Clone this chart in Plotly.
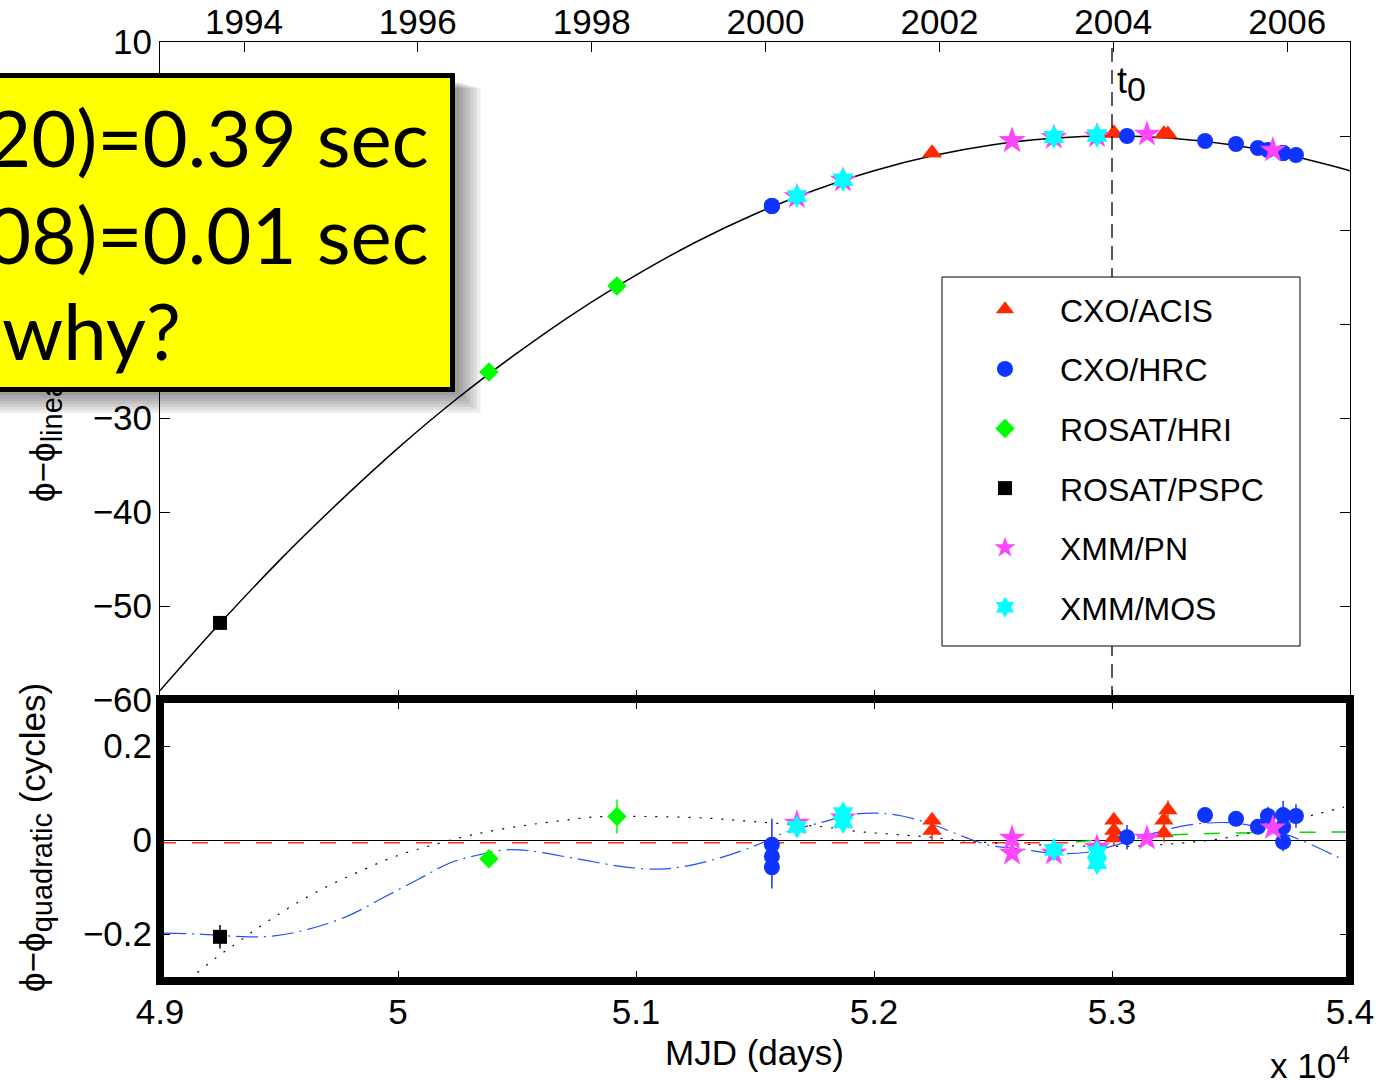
import plotly.graph_objects as go

# ---------------- data ----------------
# Top panel: phi - phi_linear (cycles) ; bottom: residuals phi - phi_quadratic
acis_mjd = [52244, 52244, 53008, 53008, 53008, 53218, 53218, 53235]
acis_top = [-1.8, -1.8, 0.3, 0.3, 0.3, 0.2, 0.2, 0.2]
acis_res = [0.042, 0.020, 0.042, 0.020, 0.004, 0.042, 0.015, 0.064]
acis_err = [0.015, 0.020, 0.015, 0.015, 0.015, 0.015, 0.020, 0.020]

hrc_mjd = [51571, 51571, 51571, 53063, 53391, 53521, 53613, 53655, 53719, 53719, 53719, 53773]
hrc_top = [-7.45, -7.45, -7.45, 0.0, -0.53, -0.85, -1.28, -1.49, -1.81, -1.81, -1.81, -2.02]
hrc_res = [-0.010, -0.035, -0.058, 0.006, 0.053, 0.045, 0.028, 0.051, 0.053, 0.028, -0.004, 0.051]
hrc_err = [0.055, 0.020, 0.045, 0.026, 0.012, 0.012, 0.012, 0.020, 0.030, 0.020, 0.020, 0.025]

hri_mjd = [50382, 50920]
hri_top = [-25.1, -15.95]
hri_res = [-0.040, 0.050]
hri_err = [0.010, 0.036]

pspc_mjd = [49252]
pspc_top = [-51.8]
pspc_res = [-0.206]
pspc_err = [0.025]

pn_mjd = [51676, 51870, 52580, 52580, 52756, 52937, 53147, 53676]
pn_top = [-6.45, -4.7, -0.5, -0.5, -0.15, 0.0, 0.2, -1.5]
pn_res = [0.036, 0.047, 0.004, -0.028, -0.028, -0.015, 0.004, 0.026]
pn_err = [0.010, 0.010, 0.012, 0.012, 0.010, 0.010, 0.010, 0.012]

mos_mjd = [51676, 51870, 51870, 52756, 52937, 52937]
mos_top = [-6.4, -4.65, -4.65, -0.1, 0.05, 0.05]
mos_res = [0.028, 0.057, 0.038, -0.021, -0.026, -0.049]
mos_err = [0.010, 0.010, 0.010, 0.010, 0.010, 0.010]

# quadratic model curve (top panel)
fit_mjd = [49000, 49250, 49500, 49750, 50000, 50250, 50500, 50750, 51000, 51250, 51500,
           51750, 52000, 52250, 52500, 52750, 53000, 53250, 53500, 53750, 54000]
fit_val = [-59.0, -51.9, -45.2, -39.0, -33.2, -27.9, -23.1, -18.7, -14.8, -11.3, -8.3,
           -5.77, -3.69, -2.08, -0.92, -0.23, 0.0, -0.23, -0.92, -2.08, -3.69]

# residual-panel model curves
dot_mjd = [49157, 49237, 49320, 49403, 49486, 49571, 49660, 49750, 49843, 49937, 50029, 50129,
           50269, 50370, 50519, 50668, 50826, 51034, 51282, 51521, 51786, 51936, 52084, 52235,
           52382, 52500, 52681, 52882, 53097, 53345, 53496, 53676, 53844, 53975]
dot_val = [-0.282, -0.250, -0.220, -0.190, -0.162, -0.135, -0.110, -0.087, -0.066, -0.045, -0.028,
           -0.013, 0.006, 0.017, 0.030, 0.040, 0.049, 0.050, 0.047, 0.038, 0.028, 0.018, 0.012,
           0.006, -0.002, -0.006, -0.010, -0.013, -0.013, -0.004, 0.006, 0.028, 0.053, 0.070]

dd_mjd = [49017, 49155, 49374, 49481, 49622, 49788, 49937, 50088, 50218, 50336, 50454, 50550,
          50752, 50950, 51101, 51217, 51366, 51516, 51621, 51769, 51919, 52017, 52118, 52251,
          52382, 52483, 52616, 52748, 52898, 53046, 53181, 53279, 53395, 53513, 53676, 53811, 53975]
dd_val = [-0.198, -0.200, -0.206, -0.204, -0.190, -0.162, -0.123, -0.083, -0.049, -0.032, -0.021,
          -0.023, -0.040, -0.057, -0.062, -0.055, -0.036, -0.009, 0.015, 0.036, 0.055, 0.057, 0.051,
          0.032, 0.006, -0.011, -0.019, -0.028, -0.026, -0.006, 0.015, 0.028, 0.036, 0.036, 0.021,
          -0.004, -0.043]

red_mjd = [49000, 52815]
red_val = [-0.006, -0.006]

green_mjd = [52849, 53100, 53311, 53513, 53983]
green_val = [-0.004, 0.006, 0.012, 0.015, 0.017]

t0_mjd = 53000
t0_line = [-60, 10]

year_mjd = [49353, 50083, 50814, 51544, 52275, 53005, 53736]
year_lbl = ["1994", "1996", "1998", "2000", "2002", "2004", "2006"]

mjd_ticks = [49000, 50000, 51000, 52000, 53000, 54000]
mjd_lbls = ["4.9", "5", "5.1", "5.2", "5.3", "5.4"]

top_ticks = [-60, -50, -40, -30, 10]
top_hidden_ticks = [-20, -10, 0]  # their labels lie under the yellow box

res_ticks = [-0.2, 0, 0.2]
res_lbls = ["\u22120.2", "0", "0.2"]

box_lines = ["20)=0.39 sec", "08)=0.01 sec", "why?"]

# ---------------- styling ----------------
W, H = 1379, 1084
L, R, T, B = 160, 1350, 42, 981


def px(x):
    return (x - L) / (R - L)


def py(y):
    return (B - y) / (B - T)


FONT = "Liberation Sans, Arial, Helvetica, sans-serif"
RED = "#ff2a00"
BLUE = "#1034ff"
GREEN = "#00ff00"
MAG = "#ff44ff"
CYAN = "#00ffff"

series = [
    ("CXO/ACIS", acis_mjd, acis_top, acis_res, acis_err, RED, "triangle-up", 17),
    ("CXO/HRC", hrc_mjd, hrc_top, hrc_res, hrc_err, BLUE, "circle", 16),
    ("ROSAT/HRI", hri_mjd, hri_top, hri_res, hri_err, GREEN, "diamond", 15),
    ("ROSAT/PSPC", pspc_mjd, pspc_top, pspc_res, pspc_err, "black", "square", 14),
    ("XMM/PN", pn_mjd, pn_top, pn_res, pn_err, MAG, "star", 20),
    ("XMM/MOS", mos_mjd, mos_top, mos_res, mos_err, CYAN, "hexagram", 18),
]

fig = go.Figure()

# top panel curves
fig.add_trace(go.Scatter(x=fit_mjd, y=fit_val, mode="lines", line=dict(color="black", width=1.5, shape="spline"),
                         showlegend=False, xaxis="x", yaxis="y", hoverinfo="skip"))
# t0 line lives on the year axis (same range) so that axis gets drawn
fig.add_trace(go.Scatter(x=[t0_mjd, t0_mjd], y=t0_line, mode="lines",
                         line=dict(color="black", width=1.3, dash="14px,8px"),
                         showlegend=False, xaxis="x3", yaxis="y", hoverinfo="skip"))

# bottom panel curves
fig.add_trace(go.Scatter(x=red_mjd, y=red_val, mode="lines", line=dict(color="#ff3322", width=1.5, dash="16px,16px"),
                         showlegend=False, xaxis="x2", yaxis="y2"))
fig.add_trace(go.Scatter(x=green_mjd, y=green_val, mode="lines",
                         line=dict(color="#00dd00", width=1.5, dash="16px,16px", shape="spline"),
                         showlegend=False, xaxis="x2", yaxis="y2"))
fig.add_trace(go.Scatter(x=dot_mjd, y=dot_val, mode="lines",
                         line=dict(color="black", width=1.2, dash="2px,9px", shape="spline"),
                         showlegend=False, xaxis="x2", yaxis="y2"))
fig.add_trace(go.Scatter(x=dd_mjd, y=dd_val, mode="lines",
                         line=dict(color="#2050ff", width=1.2, dash="22px,6px,2px,6px", shape="spline"),
                         showlegend=False, xaxis="x2", yaxis="y2"))

for i, (name, mjd, top, res, err, col, sym, size) in enumerate(series):
    fig.add_trace(go.Scatter(x=mjd, y=top, mode="markers", name=name, legendgroup="g%d" % i,
                             marker=dict(color=col, symbol=sym, size=size, line=dict(width=0)),
                             xaxis="x", yaxis="y"))
    fig.add_trace(go.Scatter(x=mjd, y=res, mode="markers", name=name, legendgroup="g%d" % i,
                             showlegend=False,
                             marker=dict(color=col, symbol=sym, size=size, line=dict(width=0)),
                             error_y=dict(type="data", array=err, color=col, thickness=1.5, width=0),
                             xaxis="x2", yaxis="y2"))

axis_common = dict(showgrid=False, ticks="inside", ticklen=10, tickwidth=1, automargin=False,
                   tickcolor="black", linecolor="black", linewidth=1, showline=True,
                   tickfont=dict(family=FONT, size=35, color="black"))

top_dom = [py(700), 1]
bot_dom = [0, py(699)]

fig.update_layout(
    width=W, height=H,
    margin=dict(l=L, r=W - R, t=T, b=H - B, autoexpand=False),
    paper_bgcolor="white", plot_bgcolor="white",
    xaxis=dict(domain=[0, 1], anchor="y", range=[49000, 54000], tickvals=mjd_ticks,
               showticklabels=False, mirror=True, zeroline=False, **axis_common),
    xaxis3=dict(overlaying="x", side="top", anchor="y", range=[49000, 54000],
                tickvals=year_mjd, ticktext=year_lbl, showgrid=False, zeroline=False,
                ticks="inside", ticklen=10, tickcolor="black", showline=False, automargin=False,
                tickfont=dict(family=FONT, size=35, color="black")),
    yaxis=dict(domain=top_dom, anchor="x", range=[-60, 10], tickvals=top_ticks,
               minor=dict(tickvals=top_hidden_ticks, ticks="inside", ticklen=10, tickcolor="black",
                          showgrid=False),
               mirror="ticks", zeroline=False, **axis_common),
    xaxis2=dict(domain=[0, 1], anchor="y2", range=[49000, 54000], tickvals=mjd_ticks,
                ticktext=mjd_lbls, mirror="ticks", zeroline=False, **axis_common),
    yaxis2=dict(domain=bot_dom, anchor="x2", range=[-0.3, 0.3], tickvals=res_ticks,
                ticktext=res_lbls, mirror="ticks", zeroline=True, zerolinecolor="black",
                zerolinewidth=1, **axis_common),
    legend=dict(x=px(950), y=py(282), xanchor="left", yanchor="top",
                bgcolor="rgba(0,0,0,0)", borderwidth=0,
                font=dict(family=FONT, size=32, color="black"),
                itemwidth=100, tracegroupgap=15, traceorder="grouped"),
    showlegend=True,
)

shapes = []
# drop shadow of the yellow box
for i in range(7):
    shapes.append(dict(type="rect", xref="paper", yref="paper", layer="above",
                       x0=px(-20), x1=px(456 + 3.5 * (i + 1)),
                       y0=py(392 + 3 * (i + 1)), y1=py(82 + i),
                       fillcolor="rgba(0,0,0,0.065)", line=dict(width=0)))
# legend frame
shapes.append(dict(type="rect", xref="paper", yref="paper", layer="above",
                   x0=px(942), x1=px(1300), y0=py(646), y1=py(277),
                   fillcolor="white", line=dict(color="black", width=1)))
# thick frame of the residual panel
shapes.append(dict(type="rect", xref="x2 domain", yref="y2 domain", x0=0, x1=1, y0=0, y1=1,
                   layer="above", line=dict(color="black", width=8), fillcolor="rgba(0,0,0,0)"))

PHI = "\u03d5"
SUB = "<sub><span style='font-size:29px'>%s</span></sub>"
annotations = [
    # y-axis titles (drawn first so the yellow box covers them)
    dict(text=PHI + "\u2212" + PHI + SUB % "linear" + " (cycles)", xref="paper", yref="paper",
         x=px(45), y=py(372), textangle=-90, showarrow=False, xanchor="center", yanchor="middle",
         font=dict(family=FONT, size=35, color="black")),
    dict(text=PHI + "\u2212" + PHI + SUB % "quadratic" + " (cycles)", xref="paper", yref="paper",
         x=px(35), y=py(838), textangle=-90, showarrow=False, xanchor="center", yanchor="middle",
         font=dict(family=FONT, size=35, color="black")),
    # yellow box
    dict(text="&nbsp;", xref="paper", yref="paper", x=px(455), y=py(73), xanchor="right", yanchor="top",
         showarrow=False, width=545, height=309, bgcolor="#ffff00", bordercolor="black",
         borderwidth=5, borderpad=0),
    dict(text=box_lines[0], xref="paper", yref="paper", x=px(431), y=py(137), xanchor="right",
         yanchor="middle", showarrow=False, font=dict(family="Lato", size=78, color="black")),
    dict(text=box_lines[1], xref="paper", yref="paper", x=px(431), y=py(234), xanchor="right",
         yanchor="middle", showarrow=False, font=dict(family="Lato", size=78, color="black")),
    dict(text=box_lines[2], xref="paper", yref="paper", x=px(0), y=py(330), xanchor="left",
         yanchor="middle", showarrow=False, font=dict(family="Lato", size=78, color="black")),
    # t0 label
    dict(text="t<sub><span style='font-size:34px'>0</span></sub>", xref="paper", yref="paper",
         x=px(1115), y=py(84), xanchor="left", yanchor="middle", showarrow=False,
         font=dict(family=FONT, size=36, color="black")),
    # x-axis title and exponent
    dict(text="MJD (days)", xref="paper", yref="paper", x=px(754), y=py(1052), xanchor="center",
         yanchor="middle", showarrow=False, font=dict(family=FONT, size=35, color="black")),
    dict(text="x 10<sup>4</sup>", xref="paper", yref="paper", x=px(1352), y=py(1063), xanchor="right",
         yanchor="middle", showarrow=False, font=dict(family=FONT, size=35, color="black")),
]

fig.update_layout(shapes=shapes, annotations=annotations)

fig.write_html("out.html")
